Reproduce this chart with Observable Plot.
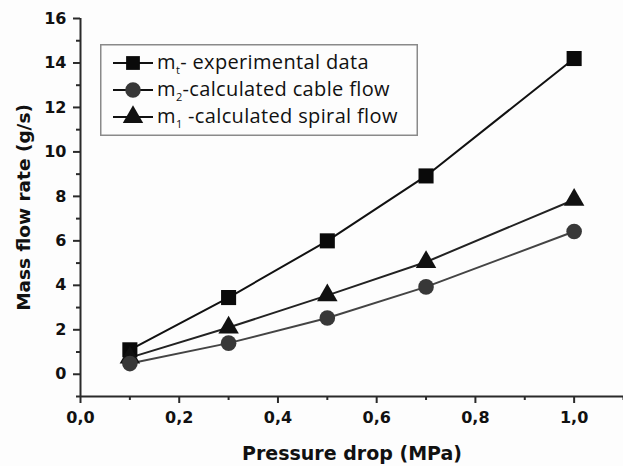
<!DOCTYPE html>
<html>
<head>
<meta charset="utf-8">
<script src="https://cdn.jsdelivr.net/npm/d3@7"></script>
<script src="https://cdn.jsdelivr.net/npm/@observablehq/plot@0.6"></script>
<style>
  html, body { margin: 0; padding: 0; background: #fdfdfd; }
  #wrap { position: relative; width: 623px; height: 466px; }
  #legend { position: absolute; left: 100px; top: 44px; }
  #chart text { font-family: 'DejaVu Sans', sans-serif !important; font-size: 16px !important; font-weight: bold !important; fill: #111; }
  #chart g[aria-label="x-axis label"] text { font-size: 19px !important; }
  #chart g[aria-label="y-axis label"] text { font-size: 18.5px !important; }
  #legend text { font-family: 'Open Sans', sans-serif; }
</style>
</head>
<body>
<div id="wrap"></div>
<script>
const pressure = [0.1, 0.3, 0.5, 0.7, 1.0];
const mtExperimental = [1.1, 3.45, 6.0, 8.92, 14.2];
const m2Cable = [0.48, 1.4, 2.53, 3.93, 6.42];
const m1Spiral = [0.75, 2.1, 3.55, 5.05, 7.85];

const xTicks = [0, 0.2, 0.4, 0.6, 0.8, 1.0];
const xMinorTicks = [0.1, 0.3, 0.5, 0.7, 0.9, 1.1];
const yTicks = [0, 2, 4, 6, 8, 10, 12, 14, 16];
const yMinorTicks = [-1, 1, 3, 5, 7, 9, 11, 13, 15];

const seriesNames = ["experimental data", "calculated cable flow", "calculated spiral flow"];

const rows = (ys) => pressure.map((x, i) => ({x, y: ys[i]}));
const mt = rows(mtExperimental), m2 = rows(m2Cable), m1 = rows(m1Spiral);

const fmtX = d => d.toFixed(1).replace(".", ",");
const axisColor = "#2a2a2a";

const chart = Plot.plot({
  width: 623,
  height: 466,
  marginLeft: 80,
  marginRight: 0,
  marginTop: 18,
  marginBottom: 70,
  style: {fontFamily: "'DejaVu Sans', sans-serif", fontWeight: "bold", fontSize: "16px", background: "transparent", color: "#111"},
  x: {domain: [0, 1.1]},
  y: {domain: [-1, 16]},
  marks: [
    Plot.axisX({ticks: xMinorTicks, tickSize: 4, tickFormat: () => "", label: null, stroke: axisColor, strokeWidth: 2}),
    Plot.axisX({ticks: xTicks, tickSize: 7, tickPadding: 8, tickFormat: fmtX, stroke: axisColor, strokeWidth: 2,
      label: "Pressure drop (MPa)", labelAnchor: "center", labelArrow: "none", labelOffset: 63}),
    Plot.axisY({ticks: yMinorTicks, tickSize: 4, tickFormat: () => "", label: null, stroke: axisColor, strokeWidth: 2}),
    Plot.axisY({ticks: yTicks, tickSize: 7, tickPadding: 7, tickFormat: d => String(d), stroke: axisColor, strokeWidth: 2,
      label: "Mass flow rate (g/s)", labelAnchor: "center", labelArrow: "none", labelOffset: 64}),
    Plot.ruleY([-1], {stroke: axisColor, strokeWidth: 2}),
    Plot.ruleX([0], {stroke: axisColor, strokeWidth: 2}),
    Plot.line(mt, {x: "x", y: "y", stroke: "#111", strokeWidth: 2}),
    Plot.line(m1, {x: "x", y: "y", stroke: "#222", strokeWidth: 2}),
    Plot.line(m2, {x: "x", y: "y", stroke: "#444", strokeWidth: 2}),
    Plot.dot(mt, {x: "x", y: "y", symbol: "square", r: 8.5, fill: "#0a0a0a", stroke: "none"}),
    Plot.dot(m1, {x: "x", y: "y", symbol: "triangle", r: 7.6, fill: "#111", stroke: "none"}),
    Plot.dot(m2, {x: "x", y: "y", symbol: "circle", r: 7.8, fill: "#383838", stroke: "none"})
  ]
});
chart.setAttribute("id", "chart");

const wrap = document.getElementById("wrap");
wrap.appendChild(chart);

// Legend
const lw = 318, lh = 92;
const legend = d3.create("svg").attr("id", "legend").attr("width", lw).attr("height", lh);
legend.append("rect").attr("x", 0.75).attr("y", 0.75).attr("width", lw - 1.5).attr("height", lh - 1.5)
  .attr("fill", "#fdfdfd").attr("stroke", "#8a8a8a").attr("stroke-width", 1.5);
const items = [
  {sub: "t", dash: "- ", name: seriesNames[0], sym: d3.symbolSquare, size: 190, fill: "#0a0a0a"},
  {sub: "2", dash: "-", name: seriesNames[1], sym: d3.symbolCircle, size: 190, fill: "#383838"},
  {sub: "1", dash: " -", name: seriesNames[2], sym: d3.symbolTriangle, size: 180, fill: "#111"}
];
items.forEach((it, i) => {
  const cy = 19 + i * 27;
  const g = legend.append("g");
  g.append("line").attr("x1", 13).attr("x2", 53).attr("y1", cy).attr("y2", cy).attr("stroke", "#111").attr("stroke-width", 2);
  g.append("path").attr("d", d3.symbol(it.sym, it.size)()).attr("transform", `translate(33,${cy})`).attr("fill", it.fill);
  const t = g.append("text").attr("x", 57).attr("y", cy + 6)
    .attr("font-size", 20).attr("letter-spacing", 0.35).attr("fill", "#111");
  t.append("tspan").text("m");
  t.append("tspan").attr("font-size", 11).attr("dy", 5).text(it.sub);
  t.append("tspan").attr("dy", -5).text(it.dash + it.name);
});
wrap.appendChild(legend.node());
</script>
</body>
</html>
